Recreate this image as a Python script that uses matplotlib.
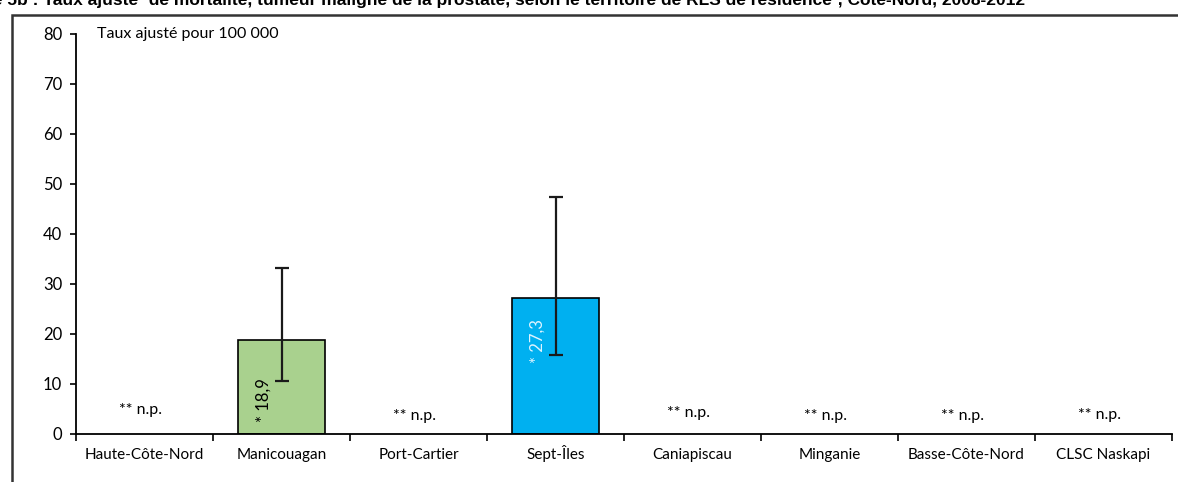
import matplotlib
matplotlib.use('Agg')
import matplotlib.pyplot as plt
from matplotlib.patches import Rectangle

# Data
territoires = ['Haute-Côte-Nord', 'Manicouagan', 'Port-Cartier', 'Sept-Îles',
               'Caniapiscau', 'Minganie', 'Basse-Côte-Nord', 'CLSC Naskapi']
taux = [None, 18.9, None, 27.3, None, None, None, None]
ic_bas = [None, 10.6, None, 15.8, None, None, None, None]
ic_haut = [None, 33.3, None, 47.4, None, None, None, None]
couleurs = [None, '#a9d18e', None, '#00b0f0', None, None, None, None]
np_hauteur = [4.8, None, 3.6, None, 4.2, 3.6, 3.6, 3.9]

plt.rcParams['font.family'] = ['Lato', 'DejaVu Sans']

fig = plt.figure(figsize=(11.78, 4.82), dpi=100)
ax = fig.add_axes([76 / 1178, 1 - 434 / 482, (1172 - 76) / 1178, 400 / 482])

x = list(range(len(territoires)))
for i, t in enumerate(territoires):
    if taux[i] is not None:
        ax.bar(i, taux[i], width=0.63, color=couleurs[i], edgecolor='black', linewidth=1.2, zorder=2)
        ax.errorbar(i, taux[i], yerr=[[taux[i] - ic_bas[i]], [ic_haut[i] - taux[i]]],
                    fmt='none', ecolor='#1a1a1a', elinewidth=1.6, capsize=5, capthick=1.6, zorder=3)
        lab_col = 'black' if i == 1 else '#dff4ff'
        y0 = 2.5 if i == 1 else 14.2
        ax.text(i - 0.13, y0, f'* {str(taux[i]).replace(".", ",")}', rotation=90,
                ha='center', va='bottom', fontsize=12, color=lab_col, zorder=4)
    else:
        ax.text(i - 0.03, np_hauteur[i], '** n.p.', ha='center', va='center', fontsize=11.5, color='black')

ax.set_xlim(-0.5, len(territoires) - 0.5)
ax.set_ylim(0, 80)
ax.set_yticks(range(0, 81, 10))
ax.set_xticks([i + 0.5 for i in range(-1, len(territoires))])
ax.set_xticklabels([])
ax.set_xticks(x, minor=True)
ax.set_xticklabels(territoires, minor=True, fontsize=11, va='baseline')
ax.tick_params(axis='x', which='minor', length=0, pad=18)
ax.tick_params(axis='x', which='major', length=5, width=1.2, direction='out')
ax.tick_params(axis='y', length=4, width=1.2, labelsize=12, pad=6)
for s in ['top', 'right']:
    ax.spines[s].set_visible(False)
for s in ['left', 'bottom']:
    ax.spines[s].set_linewidth(1.3)

ax.text(0.019, 80, 'Taux ajusté pour 100 000', transform=ax.get_yaxis_transform(),
        ha='left', va='center', fontsize=11.5)

# cropped title and frame
fig.text(1025 / 1178, 1 - 5 / 482,
         'Figure 5b : Taux ajusté¹ de mortalité, tumeur maligne de la prostate, selon le territoire de RLS de résidence², Côte-Nord, 2008-2012',
         ha='right', va='baseline', fontsize=12.5, fontweight='bold',
         family=['Liberation Sans Narrow', 'Liberation Sans'])
fig.patches.append(Rectangle((12 / 1178, -0.1), 1.2, 1 - 15 / 482 + 0.1, transform=fig.transFigure,
                             fill=False, edgecolor='#333333', linewidth=1.8))

plt.savefig('out.png', dpi=100)
